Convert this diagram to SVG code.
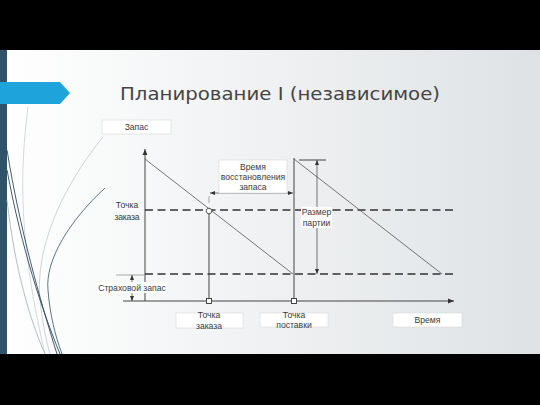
<svg xmlns="http://www.w3.org/2000/svg" width="540" height="405" viewBox="0 0 540 405">
<defs>
<linearGradient id="bg" x1="0" y1="0" x2="1" y2="0">
<stop offset="0" stop-color="#ffffff"/>
<stop offset="0.5" stop-color="#eff1f2"/>
<stop offset="1" stop-color="#dfe2e5"/>
</linearGradient>
<marker id="ah" viewBox="0 0 10 10" refX="10" refY="5" markerWidth="6" markerHeight="6" orient="auto-start-reverse" markerUnits="userSpaceOnUse">
<path d="M0,1 L10,5 L0,9 z" fill="#333"/>
</marker>
<marker id="ahs" viewBox="0 0 10 10" refX="10" refY="5" markerWidth="5" markerHeight="5" orient="auto-start-reverse" markerUnits="userSpaceOnUse">
<path d="M0,1 L10,5 L0,9 z" fill="#333"/>
</marker>
</defs>
<style>
.lbl{font-family:"Liberation Sans",Arial,sans-serif;font-size:8.6px;fill:#3a3a3a;text-anchor:middle}
.box{fill:#ffffff;stroke:#d8d8d8;stroke-width:0.6}
.ax{stroke:#444;stroke-width:1;fill:none}
.thin{stroke:#555;stroke-width:0.8;fill:none}
.dash{stroke:#333;stroke-width:1.5;stroke-dasharray:8 4.5;fill:none}
.ext{stroke:#888;stroke-width:0.7;fill:none}
.deco{fill:none;stroke-width:0.9}
</style>
<rect x="0" y="0" width="540" height="405" fill="#000"/>
<rect x="0" y="50" width="540" height="304" fill="url(#bg)"/>
<rect x="0" y="50" width="7" height="304" fill="#2f5369"/>
<g id="decor">
<path class="deco" stroke="#cfd4d8" d="M28,107 C20,170 18,240 45,354"/>
<path class="deco" stroke="#c8cdd1" d="M103,137 C60,190 35,250 40,300 C42,320 46,340 50,354"/>
<path class="deco" stroke="#4a6478" d="M105,188 C70,220 45,260 48,290 C50,315 55,335 62,354"/>
<path class="deco" stroke="#2f4a60" d="M7,150 C20,230 40,300 57,354"/>
<path class="deco" stroke="#2f4a60" d="M7,170 C22,250 42,310 60,354"/>
<path class="deco" stroke="#aab4bc" d="M7,200 C15,270 30,320 45,354"/>
</g>
<polygon points="0,82 60,82 70,93 60,104 0,104" fill="#1ea3da"/>
<text x="120" y="100" font-family="'DejaVu Sans','Liberation Sans',sans-serif" font-size="17" fill="#454545" textLength="320" lengthAdjust="spacingAndGlyphs">Планирование I (независимое)</text>
<g id="connectors">
<line class="ax" x1="145" y1="301" x2="145" y2="149" marker-end="url(#ah)"/>
<line class="ax" x1="123" y1="301" x2="454" y2="301" marker-end="url(#ah)"/>
<line class="dash" x1="145" y1="210" x2="454" y2="210"/>
<line class="dash" x1="145" y1="274" x2="454" y2="274"/>
<line class="thin" x1="145" y1="159" x2="293" y2="274"/>
<line class="thin" x1="294" y1="159" x2="442" y2="274"/>
<line class="ax" x1="209" y1="210" x2="209" y2="301"/>
<line class="ax" x1="294" y1="158" x2="294" y2="301" stroke="#666"/>
<line class="thin" x1="210" y1="193" x2="293" y2="193" marker-start="url(#ahs)" marker-end="url(#ahs)"/>
<line class="ext" x1="209" y1="196" x2="209" y2="203"/>
<line class="ax" x1="299" y1="160" x2="326" y2="160"/>
<line class="thin" x1="317" y1="160" x2="317" y2="274" marker-start="url(#ahs)" marker-end="url(#ahs)"/>
<line class="ext" x1="116" y1="275" x2="145" y2="275"/>
<line class="thin" x1="132" y1="275" x2="132" y2="301" marker-start="url(#ahs)" marker-end="url(#ahs)"/>
<circle cx="209" cy="211" r="2.8" fill="#fff" stroke="#333" stroke-width="0.8"/>
<rect x="206.5" y="298.5" width="5" height="5" fill="#fff" stroke="#333" stroke-width="0.9"/>
<rect x="291.5" y="298.5" width="5" height="5" fill="#fff" stroke="#333" stroke-width="0.9"/>
</g>
<g id="stock">
<rect class="box" x="102" y="120" width="69" height="14"/>
<text class="lbl" x="136.5" y="130">Запас</text>
</g>
<g id="reorder-left">
<text class="lbl" x="127" y="208">Точка</text>
<text class="lbl" x="127" y="220" textLength="25" lengthAdjust="spacing">заказа</text>
</g>
<g id="lead-time">
<rect class="box" x="219" y="160" width="68" height="33"/>
<text class="lbl" x="253" y="170">Время</text>
<text class="lbl" x="253" y="180">восстановления</text>
<text class="lbl" x="253" y="190">запаса</text>
</g>
<g id="lot-size">
<rect x="301" y="207" width="31" height="21" fill="#fff"/>
<text class="lbl" x="316.5" y="215">Размер</text>
<text class="lbl" x="316.5" y="226">партии</text>
</g>
<g id="safety-stock">
<rect x="97" y="282" width="70" height="11" fill="#fff"/>
<text class="lbl" x="132" y="290.5">Страховой запас</text>
</g>
<g id="order-point">
<rect class="box" x="176" y="313" width="67" height="15"/>
<text class="lbl" x="209" y="318">Точка</text>
<text class="lbl" x="209" y="328.5" font-size="7.5">заказа</text>
</g>
<g id="delivery-point">
<rect class="box" x="260" y="313" width="68" height="14"/>
<text class="lbl" x="294" y="318">Точка</text>
<text class="lbl" x="294" y="328" font-size="7.5">поставки</text>
</g>
<g id="time">
<rect class="box" x="393" y="313" width="69" height="14"/>
<text class="lbl" x="427.5" y="323">Время</text>
</g>
</svg>
